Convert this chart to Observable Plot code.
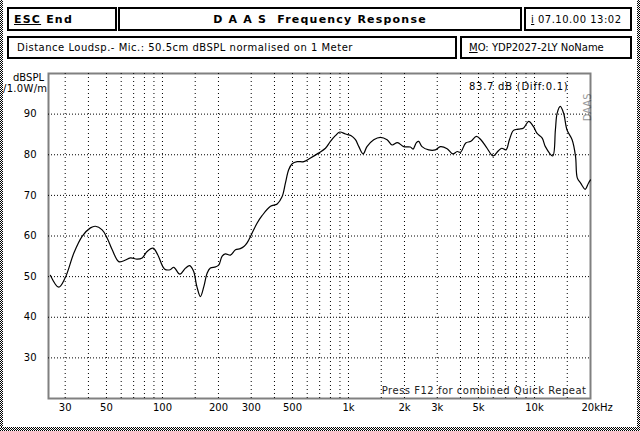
<!DOCTYPE html>
<html><head><meta charset="utf-8">
<script src="https://cdn.jsdelivr.net/npm/d3@7"></script>
<script src="https://cdn.jsdelivr.net/npm/@observablehq/plot@0.6"></script>
<style>
body{margin:0;background:#fff;}
#wrap{position:relative;width:640px;height:431px;overflow:hidden;font-family:"DejaVu Sans",sans-serif;font-size:10px;color:#000;background:#fff;}
#chart{position:absolute;left:0;top:0;}
.box{position:absolute;box-sizing:border-box;border:2px solid #000;display:flex;align-items:center;white-space:nowrap;background:#fff;}
.bold{font-weight:bold;font-size:11px;letter-spacing:1.2px;}
.sp{letter-spacing:0.5px;}
.chk{position:absolute;background:repeating-conic-gradient(#000 0% 25%, #fff 0% 50%) 0 0/2px 2px;}
.lab{position:absolute;white-space:nowrap;font-size:10px;line-height:10px;}
u{text-decoration:underline;}
</style>
</head><body>
<div id="wrap">
  <div id="chart"></div>
  <div class="chk" style="left:0;top:0;width:3px;height:431px;"></div>
  <div class="chk" style="left:637px;top:0;width:3px;height:431px;"></div>
  <div class="chk" style="left:0;top:427px;width:640px;height:4px;"></div>
  <div class="box bold" style="left:7px;top:7px;width:110px;height:24px;padding-left:5px;"><u>ESC</u>&nbsp;End</div>
  <div class="box bold" style="left:118px;top:7px;width:404px;height:24px;justify-content:center;">D A A S&nbsp;&nbsp;Frequency Response</div>
  <div class="box sp" style="left:524px;top:7px;width:108px;height:24px;padding-left:5px;"><u>i</u>&nbsp;07.10.00 13:02</div>
  <div class="box sp" style="left:7px;top:36px;width:450px;height:23px;padding-left:8px;">Distance Loudsp.- Mic.: 50.5cm dBSPL normalised on 1 Meter</div>
  <div class="box" style="left:460px;top:36px;width:172px;height:23px;padding-left:7px;"><u>M</u>O: YDP2027-2LY NoName</div>
  <div class="lab" style="left:13px;top:73px;">dBSPL</div>
  <div class="lab" style="left:3px;top:84px;letter-spacing:0.3px;">/1.0W/m</div>
</div>
<script>
// Frequency response data (Hz, dB SPL)
const freqs = [25, 27.7, 30, 33.4, 37, 41, 43.6, 47.4, 50.4, 53.7, 58.2, 62, 67.3, 73, 77.8, 82.7, 89, 94.3, 102.5, 110, 115, 124, 133, 140, 147, 153, 160, 167, 174, 181, 193, 201, 209, 218, 232, 247, 262, 274, 285, 303, 323, 343, 381, 414, 440, 458, 477, 498, 530, 575, 625, 690, 752, 800, 850, 898, 964, 1034, 1090, 1137, 1200, 1257, 1367, 1485, 1613, 1716, 1833, 1982, 2150, 2224, 2318, 2385, 2485, 2700, 2930, 3120, 3390, 3640, 3840, 4000, 4270, 4550, 4870, 5150, 5560, 5990, 6400, 6670, 7030, 7330, 7710, 8210, 8740, 9300, 9880, 10300, 11000, 11440, 12530, 12950, 13230, 13760, 14340, 14960, 15930, 16620, 16980, 17700, 18720, 19500, 20000];
const dbs = [50.3, 47.4, 49.7, 55.8, 59.9, 62.0, 62.4, 61.5, 59.5, 56.6, 53.7, 53.9, 54.6, 54.3, 54.6, 56.2, 57.0, 55.4, 51.9, 51.7, 52.3, 50.6, 52.1, 52.7, 51.3, 47.6, 45.1, 47.6, 50.9, 52.1, 52.4, 52.9, 55.0, 55.6, 55.3, 56.6, 56.9, 57.4, 58.3, 60.7, 63.2, 65.0, 67.3, 67.9, 69.7, 73.0, 76.3, 77.8, 78.3, 78.3, 79.2, 80.4, 81.6, 83.3, 84.7, 85.6, 85.1, 84.7, 83.7, 82.0, 80.2, 82.0, 83.7, 84.3, 83.7, 82.4, 83.0, 82.0, 81.9, 81.4, 83.0, 83.3, 82.0, 81.2, 81.2, 82.0, 81.5, 80.2, 80.8, 80.6, 82.9, 83.3, 84.5, 83.7, 81.6, 79.7, 81.0, 81.6, 81.2, 83.7, 86.0, 86.3, 86.6, 88.2, 86.9, 85.3, 84.1, 82.0, 79.7, 86.1, 90.2, 91.9, 90.2, 86.1, 83.7, 79.6, 74.3, 73.0, 71.5, 73.0, 73.8];

const xTickValues = [30, 50, 100, 200, 300, 500, 1000, 2000, 3000, 5000, 10000];
const xTickLabels = ["30", "50", "100", "200", "300", "500", "1k", "2k", "3k", "5k", "10k"];
const xLastTick = [20000];
const xLastLabel = ["20kHz"];
const yTickValues = [30, 40, 50, 60, 70, 80, 90];
const xGrid = [30, 40, 50, 60, 70, 80, 90, 100, 150, 200, 300, 400, 500, 600, 700, 800, 900, 1000, 1500, 2000, 3000, 4000, 5000, 6000, 7000, 8000, 9000, 10000, 15000];
const yGrid = [30, 40, 50, 60, 70, 80, 90];
const levelNote = ["83.7 dB (Diff:0.1)"];
const footNote = ["Press F12 for combined Quick Repeat"];
const sideTag = ["DAAS"];

const data = freqs.map((f, i) => ({f, db: dbs[i]}));

const svg = Plot.plot({
  width: 640,
  height: 431,
  marginTop: 73,
  marginBottom: 33,
  marginLeft: 48,
  marginRight: 50,
  style: {fontFamily: "DejaVu Sans, sans-serif", fontSize: "10px", background: "transparent", color: "#000"},
  x: {type: "log", domain: [24.4, 20000], axis: null},
  y: {domain: [20, 100], axis: null},
  marks: [
    Plot.ruleX(xGrid, {x: d => d, stroke: "#000", strokeWidth: 1, strokeDasharray: "1,3"}),
    Plot.ruleY(yGrid, {y: d => d, stroke: "#000", strokeWidth: 1, strokeDasharray: "1,2"}),
    Plot.line(data, {x: "f", y: "db", stroke: "#000", strokeWidth: 1.2, curve: "catmull-rom"}),
    Plot.text(xTickValues, {x: d => d, text: (d, i) => xTickLabels[i], frameAnchor: "bottom", dy: 12, fill: "#000"}),
    Plot.text(xLastTick, {x: d => d, text: (d, i) => xLastLabel[i], frameAnchor: "bottom", dy: 12, dx: -9, textAnchor: "start", fill: "#000"}),
    Plot.text(yTickValues, {y: d => d, text: d => String(d), frameAnchor: "left", dx: -12, textAnchor: "end", fill: "#000"}),
    Plot.text(levelNote, {text: d => d, frameAnchor: "top-right", dx: -22, dy: 9, textAnchor: "end", fill: "#000", className: "note lvl"}),
    Plot.text(footNote, {text: d => d, frameAnchor: "bottom-right", dx: -4, dy: -5, textAnchor: "end", fill: "#222", className: "note"}),
    Plot.text(sideTag, {text: d => d, frameAnchor: "top-right", dx: -7, dy: 20, rotate: -90, fill: "#999", fontSize: 10}),
    Plot.frame({stroke: "url(#chk)", strokeWidth: 2})
  ]
});
const ns = "http://www.w3.org/2000/svg";
const defs = document.createElementNS(ns, "defs");
defs.innerHTML = '<pattern id="chk" width="2" height="2" patternUnits="userSpaceOnUse"><rect width="1" height="1" fill="#000"/><rect x="1" y="1" width="1" height="1" fill="#000"/></pattern>';
svg.insertBefore(defs, svg.firstChild);
document.getElementById("chart").appendChild(svg);
// widen the note texts slightly to match the reference's character pitch
svg.querySelectorAll("g.note").forEach(g => g.style.letterSpacing = "0.5px");
svg.querySelectorAll("g.lvl").forEach(g => g.style.letterSpacing = "0.75px");
</script>
</body></html>
